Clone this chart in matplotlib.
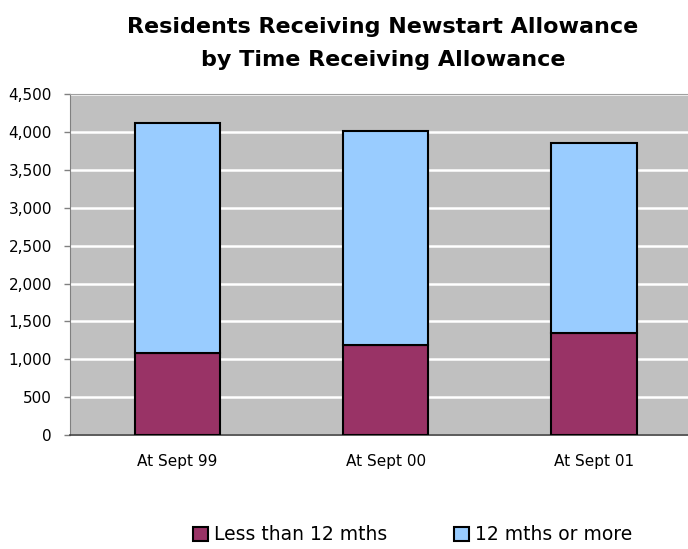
import matplotlib
matplotlib.use("Agg")
import matplotlib.pyplot as plt
from matplotlib.ticker import FuncFormatter

plt.rcParams["font.family"] = ["DejaVu Sans"]

# Newstart allowance recipients by duration on allowance
periods = ["At Sept 99", "At Sept 00", "At Sept 01"]
under_12 = [1080, 1190, 1350]
over_12 = [3045, 2830, 2510]
series_labels = ["Less than 12 mths", "12 mths or more"]
colors = ["#993366", "#99CCFF"]

W, H = 688, 549
fig = plt.figure(figsize=(W / 100, H / 100), dpi=100)
ax = fig.add_axes([70 / W, 114 / H, 618 / W, 340.7 / H])
ax.set_facecolor("#C0C0C0")

x = range(len(periods))
ax.bar(x, under_12, width=0.41, color=colors[0], edgecolor="black",
       linewidth=1.5, label=series_labels[0], zorder=3)
ax.bar(x, over_12, width=0.41, bottom=under_12, color=colors[1],
       edgecolor="black", linewidth=1.5, label=series_labels[1], zorder=3)

ax.set_xlim(-0.516, 2.452)
ax.set_ylim(0, 4500)
ax.set_yticks(range(0, 4501, 500))
ax.yaxis.set_major_formatter(FuncFormatter(lambda v, _: f"{int(v):,}"))
ax.grid(axis="y", color="white", linewidth=1.8, zorder=1)
ax.set_xticks(list(x))
ax.set_xticklabels(periods, fontsize=11)
ax.tick_params(axis="x", length=0, pad=14)
ax.tick_params(axis="y", length=4, width=1, color="#808080", labelsize=11, pad=9)
ax.spines["right"].set_visible(False)
ax.spines["left"].set_color("#808080")
ax.spines["top"].set_color("#A0A0A0")
ax.spines["bottom"].set_color("#404040")
ax.spines["bottom"].set_linewidth(1.2)

fig.text(383 / W, 1 - 33 / H, "Residents Receiving Newstart Allowance",
         ha="center", va="baseline", fontsize=16, fontweight="bold")
fig.text(383 / W, 1 - 66 / H, "by Time Receiving Allowance",
         ha="center", va="baseline", fontsize=16, fontweight="bold")

fig.legend(loc="center left", bbox_to_anchor=(193 / W, 1 - 535 / H), ncol=2,
           frameon=False, fontsize=13.5, handlelength=0.8, handleheight=0.8,
           handletextpad=0.3, columnspacing=3.6, borderpad=0, borderaxespad=0)

fig.savefig("out.png", dpi=100)
